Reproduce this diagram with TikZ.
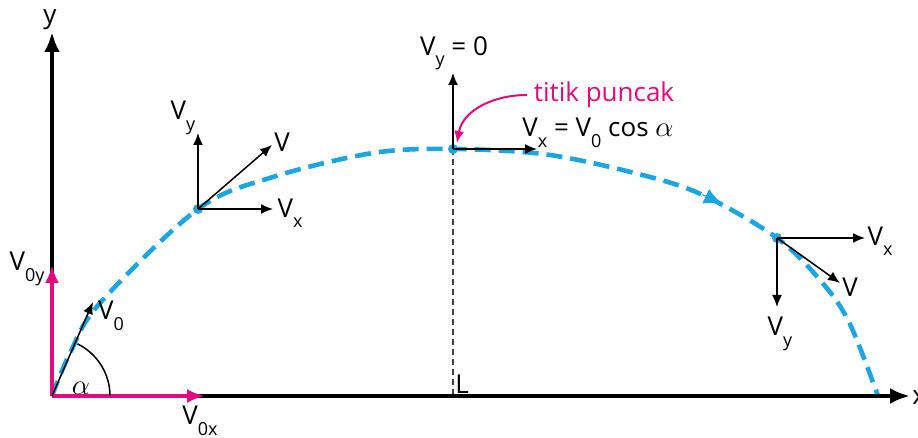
\documentclass[tikz,border=0pt]{standalone}
\usepackage{fontspec}
\setmainfont{Open Sans}
\usetikzlibrary{arrows.meta}
\definecolor{traj}{RGB}{27,166,226}
\definecolor{pink}{RGB}{229,9,127}
\newcommand{\lowsub}[1]{\raisebox{-0.4em}{\fontsize{9}{9}\selectfont#1}}

\begin{document}
\begin{tikzpicture}[x=0.5pt, y=0.5pt, font=\fontsize{13}{15}\selectfont,
  axis/.style={line width=2pt, -{Latex[length=10pt,width=8pt]}},
  comp/.style={line width=1.8pt, pink, -{Latex[length=9pt,width=7pt]}},
  vec/.style={line width=0.75pt, -{Latex[length=6pt,width=5pt]}},
  trajline/.style={traj, line width=2.3pt, dash pattern=on 8pt off 4pt},
  dot/.style={circle, fill=traj, inner sep=0pt, minimum size=5pt}]
  \useasboundingbox (0,0) rectangle (918,438);

  \coordinate (O) at (52,42);
  \coordinate (ytip) at (52,406);
  \coordinate (xtip) at (910,42);
  \coordinate (voy) at (52,173);
  \coordinate (vox) at (205,42);
  \coordinate (vo) at (93,136);
  \coordinate (foot) at (453,42);

  \coordinate (p1y) at (198,305);
  \coordinate (p1x) at (273,229);
  \coordinate (p1v) at (272,293);
  \coordinate (topy) at (453,365);
  \coordinate (topx) at (537,289);
  \coordinate (tparr) at (457,295);
  \coordinate (p3y) at (777,131);
  \coordinate (p3x) at (865,200);
  \coordinate (p3v) at (840,155);

  \draw[trajline] plot[smooth, tension=0.55] coordinates {
    (52,42) (70,85) (100,135) (198,229) (273,261) (373,285)
    (453,289) (550,283) (650,261) (707,241) (777,200) (820,158)
    (849,116) (878,42)};
  \draw[traj, line width=0.5pt, -{Latex[length=9pt,width=8pt]}]
    (702,243.5) -- (722,234);

  \draw[black!75, line width=0.9pt, dash pattern=on 3pt off 2pt]
    (453,289) -- (foot);

  \draw[axis] (O) -- (ytip);
  \draw[axis] (O) -- (xtip);
  \draw[comp] (O) -- (voy);
  \draw[comp] (O) -- (vox);
  \draw[vec] (O) -- (vo);
  \draw[line width=0.75pt] (110,42) arc (0:64:58);

  \node[dot] (p1) at (198,229) {};
  \node[dot] (top) at (453,289) {};
  \node[dot] (p3) at (777,200) {};

  \draw[vec] (p1.center) -- (p1y);
  \draw[vec] (p1.center) -- (p1x);
  \draw[vec] (p1.center) -- (p1v);
  \draw[vec] (top.center) -- (topy);
  \draw[vec] (top.center) -- (topx);
  \draw[vec] (p3.center) -- (p3y);
  \draw[vec] (p3.center) -- (p3x);
  \draw[vec] (p3.center) -- (p3v);

  \node (ylab) at (50,418) {y};
  \node[anchor=west, inner sep=1pt] (xlab) at (910,40) {x};
  \node (voylab) at (27,169) {V\lowsub{0y}};
  \node (voxlab) at (200,17) {V\lowsub{0x}};
  \node (volab) at (111,122) {V\lowsub{0}};
  \node (alab) at (81,50) {\fontsize{15}{15}\selectfont$\alpha$};

  \node (p1ylab) at (183,320) {V\lowsub{y}};
  \node (p1xlab) at (290,225) {V\lowsub{x}};
  \node (p1vlab) at (282,296) {V};

  \node (topylab) at (454,385) {V\lowsub{y} = 0};
  \node (topxlab) at (598,305) {V\lowsub{x} = V\lowsub{0} cos \fontsize{15}{15}\selectfont$\alpha$};
  \node[pink] (tp) at (604,343) {titik puncak};
  \draw[pink, line width=1pt, -{Latex[length=6pt,width=5pt]}]
    (tp.west) to[out=180, in=80] (tparr);
  \node (llab) at (462,54) {L};

  \node (p3xlab) at (880,197) {V\lowsub{x}};
  \node (p3vlab) at (850,151) {V};
  \node (p3ylab) at (780,104) {V\lowsub{y}};
\end{tikzpicture}
\end{document}
